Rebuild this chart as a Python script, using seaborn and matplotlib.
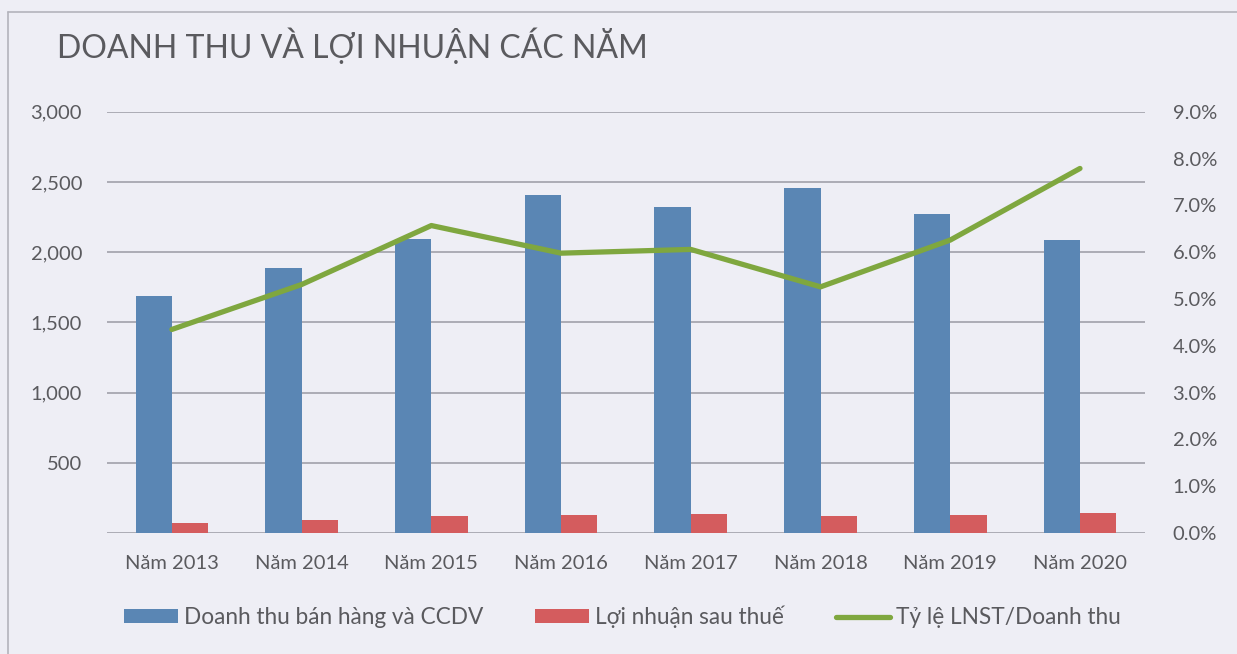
import pandas as pd
import seaborn as sns
import matplotlib.pyplot as plt
from matplotlib.patches import Patch
from matplotlib.lines import Line2D

years = ['Năm 2013', 'Năm 2014', 'Năm 2015', 'Năm 2016',
         'Năm 2017', 'Năm 2018', 'Năm 2019', 'Năm 2020']
revenue = [1690, 1888, 2095, 2405, 2325, 2460, 2270, 2085]
profit = [72, 96, 124, 129, 138, 124, 131, 140]
ratio = [4.35, 5.31, 6.57, 5.98, 6.06, 5.26, 6.26, 7.79]

rev_label = 'Doanh thu bán hàng và CCDV'
prof_label = 'Lợi nhuận sau thuế'
ratio_label = 'Tỷ lệ LNST/Doanh thu'

left_ticks = [0, 500, 1000, 1500, 2000, 2500, 3000]
right_ticks = [0, 1, 2, 3, 4, 5, 6, 7, 8, 9]

blue = '#5a86b4'
red = '#d45c5e'
green = '#7fa73f'
grey = '#5a5a5e'
bg = '#eeeef5'

df = pd.DataFrame({
    'year': years * 2,
    'value': revenue + profit,
    'series': [rev_label] * len(years) + [prof_label] * len(years),
})

sns.set_style('white')
plt.rcParams['font.family'] = ['Lato', 'DejaVu Sans']

fig = plt.figure(figsize=(12.37, 6.54), dpi=100, facecolor=bg)
ax = fig.add_axes([0.0865, 0.185, 0.839, 0.644])
ax.set_facecolor(bg)

sns.barplot(data=df, x='year', y='value', hue='series',
            palette=[blue, red], width=0.56, saturation=1,
            linewidth=0, legend=False, ax=ax)

ax.set_ylim(0, 3000)
ax.set_xlim(-0.5, len(years) - 0.5)
ax.set_yticks(left_ticks)
ax.set_yticklabels([''] + [f'{t:,}' for t in left_ticks[1:]])
ax.yaxis.grid(True, color='#a7a7b0', linewidth=1.3)
ax.set_axisbelow(True)
ax.set_xlabel('')
ax.set_ylabel('')
ax.tick_params(axis='both', length=0, labelsize=14.5, colors=grey)
ax.tick_params(axis='y', pad=18)
ax.tick_params(axis='x', pad=16)
for s in ax.spines.values():
    s.set_visible(False)

ax2 = ax.twinx()
sns.lineplot(x=list(range(len(years))), y=ratio, color=green,
             linewidth=3.8, sort=False, ax=ax2)
ax2.set_ylim(0, 9)
ax2.set_yticks(right_ticks)
ax2.set_yticklabels([f'{t:.1f}%' for t in right_ticks])
ax2.tick_params(axis='y', length=0, labelsize=14.5, colors=grey, pad=20)
for s in ax2.spines.values():
    s.set_visible(False)

fig.text(0.046, 0.93, 'DOANH THU VÀ LỢI NHUẬN CÁC NĂM', fontsize=23,
         color=grey, va='center', ha='left')

handles = [Patch(facecolor=blue, edgecolor='none'),
           Patch(facecolor=red, edgecolor='none'),
           Line2D([0], [0], color=green, linewidth=3.8)]
fig.legend(handles, [rev_label, prof_label, ratio_label],
           loc='center', bbox_to_anchor=(0.503, 0.057), ncol=3, frameon=False,
           fontsize=16.3, labelcolor=grey, handlelength=2.4, handleheight=0.55,
           handletextpad=0.25, columnspacing=2.3)

fig.add_artist(Line2D([0.0065, 0.0065], [0, 0.982], color='#b4b4bc', linewidth=1.2))
fig.add_artist(Line2D([0.0065, 1], [0.982, 0.982], color='#b4b4bc', linewidth=1.2))

plt.savefig('out.png', dpi=100, facecolor=bg)
